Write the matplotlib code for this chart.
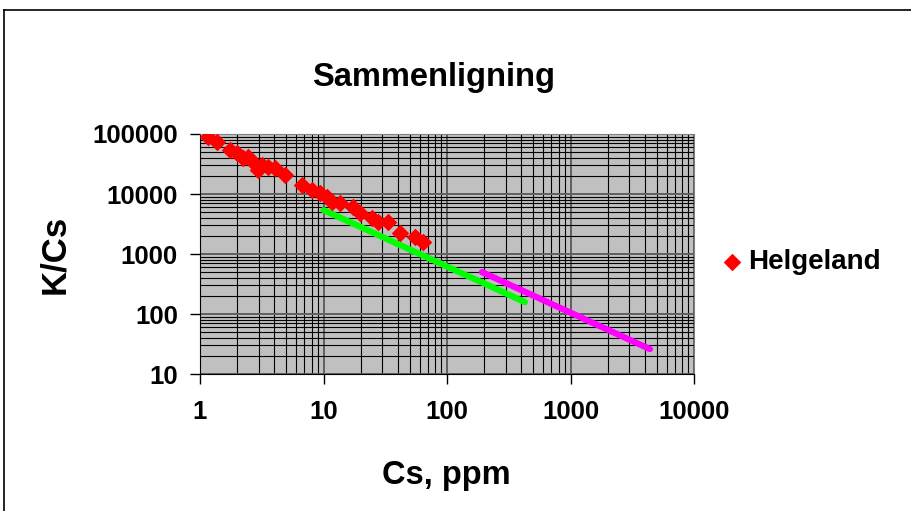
import matplotlib.pyplot as plt
from matplotlib.lines import Line2D
from matplotlib.ticker import LogLocator, FixedLocator, FixedFormatter, NullFormatter

plt.rcParams['font.family'] = ['Liberation Sans', 'DejaVu Sans']

# Helgeland samples (Cs ppm, K/Cs)
cs = [1.17, 1.37, 1.75, 1.99, 2.23, 2.45, 2.69, 2.95, 3.18, 3.55, 4.05, 4.88,
      6.7, 8.1, 9.4, 10.7, 11.7, 13.6, 17.3, 19.7, 24.7, 27.6, 33, 41.7, 55, 64]
k_cs = [90000, 74000, 54000, 48000, 40000, 42000, 34000, 25000, 30000, 28000,
        27000, 20700, 14000, 11600, 10400, 8900, 7400, 7000, 6000, 4800, 4000,
        3400, 3400, 2240, 1900, 1580]

# trend lines
green_x = [10, 427]
green_y = [5400, 158]
magenta_x = [192, 4400]
magenta_y = [500, 26]

x_ticks = [1, 10, 100, 1000, 10000]
x_labels = ["1", "10", "100", "1000", "10000"]
y_ticks = [10, 100, 1000, 10000, 100000]
y_labels = ["10", "100", "1000", "10000", "100000"]

W, H = 911, 511
fig = plt.figure(figsize=(W / 100, H / 100), dpi=100)

# chart frame
fig.add_artist(Line2D([4 / W, 1], [1 - 10 / H, 1 - 10 / H], color="black", lw=1.2))
fig.add_artist(Line2D([4 / W, 4 / W], [0, 1 - 10 / H], color="black", lw=1.2))

ax = fig.add_axes([200 / W, 1 - 374 / H, 494 / W, 240 / H])
ax.set_facecolor("#C0C0C0")
ax.set_xscale("log")
ax.set_yscale("log")
ax.set_xlim(1, 10000)
ax.set_ylim(10, 100000)

ax.grid(True, which="major", color="#606060", lw=1.4)
ax.grid(True, which="minor", color="black", lw=0.8)
ax.set_axisbelow(True)

ax.plot(green_x, green_y, color="#00FF00", lw=4.5, solid_capstyle="round", zorder=3)
ax.plot(magenta_x, magenta_y, color="#FF00FF", lw=4.5, solid_capstyle="round", zorder=3)
ax.scatter(cs, k_cs, marker="D", s=80, color="#FF0000", lw=0, zorder=4, label="Helgeland")

ax.xaxis.set_major_locator(FixedLocator(x_ticks))
ax.xaxis.set_major_formatter(FixedFormatter(x_labels))
ax.yaxis.set_major_locator(FixedLocator(y_ticks))
ax.yaxis.set_major_formatter(FixedFormatter(y_labels))
ax.xaxis.set_minor_locator(LogLocator(base=10, subs=range(2, 10), numticks=20))
ax.yaxis.set_minor_locator(LogLocator(base=10, subs=range(2, 10), numticks=20))
ax.xaxis.set_minor_formatter(NullFormatter())
ax.yaxis.set_minor_formatter(NullFormatter())
ax.tick_params(which="minor", length=0)
ax.tick_params(which="major", direction="out", length=7, width=1, labelsize=18.5)
ax.tick_params(axis="x", pad=12)
ax.tick_params(axis="y", pad=9)
for lab in ax.get_xticklabels() + ax.get_yticklabels():
    lab.set_fontweight("bold")

for s in ["top", "right"]:
    ax.spines[s].set_color("#808080")
for s in ["left", "bottom"]:
    ax.spines[s].set_color("black")

fig.text(434 / W, 1 - 86 / H, "Sammenligning", ha="center", va="baseline",
         fontsize=23.5, fontweight="bold")
fig.text(446 / W, 1 - 484 / H, "Cs, ppm", ha="center", va="baseline",
         fontsize=23.5, fontweight="bold")
fig.text(55 / W, 1 - 254 / H, "K/Cs", ha="center", va="center", rotation=90,
         fontsize=25, fontweight="bold")

fig.legend(loc="center left", bbox_to_anchor=(693 / W, 1 - 262 / H), frameon=False,
           prop={"size": 20, "weight": "bold"}, handletextpad=0.1, markerscale=1.0,
           handlelength=1.0)

fig.savefig("out.png", dpi=100)
